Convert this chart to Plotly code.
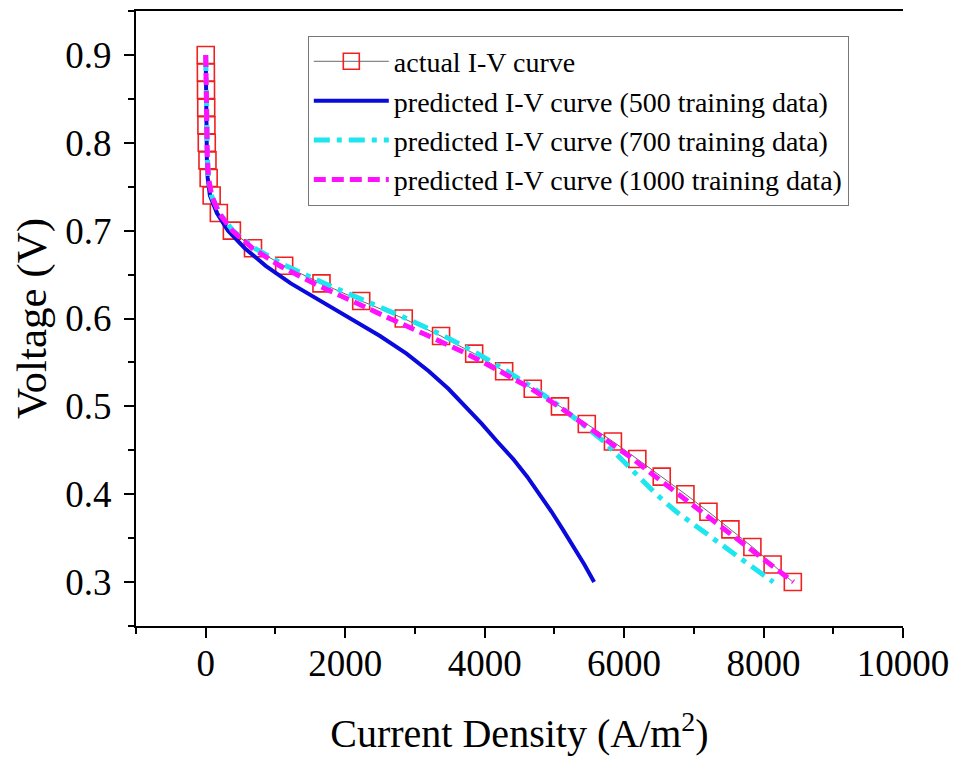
import plotly.graph_objects as go

# Voltage levels (V)
voltage = [0.90, 0.88, 0.86, 0.84, 0.82, 0.80, 0.78, 0.76, 0.74, 0.72, 0.70,
           0.68, 0.66, 0.64, 0.62, 0.60, 0.58, 0.56, 0.54, 0.52, 0.50,
           0.48, 0.46, 0.44, 0.42, 0.40, 0.38, 0.36, 0.34, 0.32, 0.30]

# actual I-V curve current density (A/m^2)
actual_current = [0, 2, 4, 7, 10, 15, 25, 42, 85, 188, 375,
                  678, 1125, 1660, 2230, 2840, 3375, 3850, 4280, 4690, 5080,
                  5465, 5840, 6190, 6540, 6880, 7210, 7525, 7840, 8130, 8420]

# predicted, 500 training data
pred500_current = [0, 1, 3, 5, 8, 12, 17, 28, 60, 160, 320,
                   560, 860, 1220, 1640, 2080, 2500, 2880, 3200, 3480, 3730,
                   3960, 4180, 4410, 4610, 4790, 4960, 5120, 5280, 5430, 5570]

# predicted, 700 training data
pred700_current = [0, 2, 4, 7, 11, 16, 26, 40, 82, 195, 390,
                   700, 1150, 1700, 2290, 2880, 3420, 3900, 4320, 4720, 5080,
                   5400, 5710, 5960, 6200, 6460, 6750, 7090, 7430, 7790, 8140]

# predicted, 1000 training data
pred1000_current = [0, 2, 4, 7, 10, 14, 24, 40, 85, 190, 380,
                    670, 1060, 1550, 2080, 2640, 3200, 3740, 4220, 4670, 5060,
                    5420, 5790, 6130, 6450, 6780, 7110, 7440, 7770, 8090, 8430]

x_ticks = [0, 2000, 4000, 6000, 8000, 10000]
y_ticks = [0.3, 0.4, 0.5, 0.6, 0.7, 0.8, 0.9]

FONT = "Liberation Serif"

fig = go.Figure()

fig.add_trace(go.Scatter(
    x=actual_current, y=voltage, mode="lines+markers",
    name="actual I-V curve",
    line=dict(color="#444444", width=0.8),
    marker=dict(symbol="square-open", size=17, color="#f02020",
                line=dict(color="#f02020", width=1.6)),
))
fig.add_trace(go.Scatter(
    x=pred500_current, y=voltage, mode="lines",
    name="predicted I-V curve (500 training data)",
    line=dict(color="#0a0adc", width=4),
))
fig.add_trace(go.Scatter(
    x=pred700_current, y=voltage, mode="lines",
    name="predicted I-V curve (700 training data)",
    line=dict(color="#1ee6ee", width=5, dash="16px,7px,5px,7px"),
))
fig.add_trace(go.Scatter(
    x=pred1000_current, y=voltage, mode="lines",
    name="predicted I-V curve (1000 training data)",
    line=dict(color="#ff10ff", width=5, dash="12px,6px"),
))

fig.update_layout(
    width=950, height=753,
    paper_bgcolor="white", plot_bgcolor="white",
    margin=dict(l=128, r=55, t=1, b=135),
    font=dict(family=FONT, color="black"),
    legend=dict(
        x=0.224, y=0.96, xanchor="left", yanchor="top",
        bgcolor="white", bordercolor="#777777", borderwidth=1,
        font=dict(family=FONT, size=28, color="black"),
        traceorder="normal", itemwidth=75, tracegroupgap=0,
    ),
    xaxis=dict(
        range=[-1000, 10000], tickvals=x_ticks,
        ticktext=[str(v) for v in x_ticks],
        ticks="outside", ticklen=10, tickwidth=1.5, tickcolor="black",
        minor=dict(dtick=1000, tick0=0, ticks="outside", ticklen=6,
                   tickwidth=1.5, tickcolor="black"),
        showline=True, linecolor="black", linewidth=2, mirror=True,
        showgrid=False, zeroline=False,
        tickfont=dict(family=FONT, size=37),
        ticklabelstandoff=-6,
        title=dict(text="Current Density (A/m<sup>2</sup>)",
                   font=dict(family=FONT, size=40), standoff=36),
    ),
    yaxis=dict(
        range=[0.25, 0.95], tickvals=y_ticks,
        ticktext=[f"{v:.1f}" for v in y_ticks],
        ticks="outside", ticklen=10, tickwidth=1.5, tickcolor="black",
        minor=dict(dtick=0.05, tick0=0, ticks="outside", ticklen=6,
                   tickwidth=1.5, tickcolor="black"),
        showline=True, linecolor="black", linewidth=2, mirror=False,
        showgrid=False, zeroline=False,
        tickfont=dict(family=FONT, size=37),
        ticklabelstandoff=5,
        title=dict(text="Voltage (V)", font=dict(family=FONT, size=43),
                   standoff=6),
    ),
    yaxis2=dict(
        overlaying="y", side="right", matches="y",
        tickvals=y_ticks, showticklabels=False,
        ticks="inside", ticklen=10, tickwidth=1.5, tickcolor="black",
        minor=dict(dtick=0.05, tick0=0, ticks="inside", ticklen=6,
                   tickwidth=1.5, tickcolor="black"),
        showline=True, linecolor="black", linewidth=2,
        showgrid=False, zeroline=False,
    ),
)

fig.write_html("out.html")
